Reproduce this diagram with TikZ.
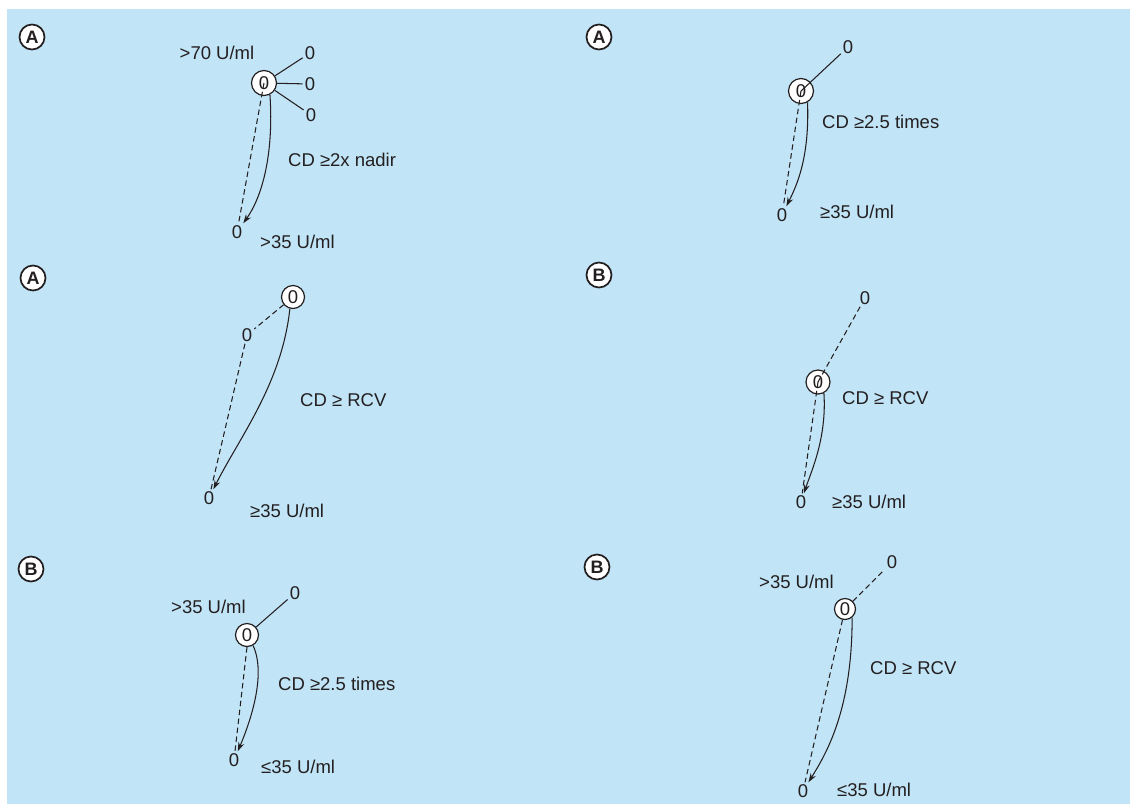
\documentclass[tikz,border=0pt]{standalone}
\usepackage{fontspec}
\setmainfont{Liberation Sans}
\usetikzlibrary{arrows.meta}
\definecolor{bgblue}{RGB}{193,228,246}
\definecolor{ink}{RGB}{35,31,32}
\begin{document}
\begin{tikzpicture}[x=1pt,y=-1pt,
  font=\fontsize{18.5}{22}\selectfont, text=ink,
  hub/.style={circle, draw=ink, fill=white, line width=1.2pt, minimum size=25pt, inner sep=0pt},
  zero/.style={inner sep=2pt},
  lbl/.style={anchor=west, inner sep=0pt},
  tag/.style={circle, draw=ink, fill=white, line width=1.7pt, minimum size=25pt, inner sep=0pt, font=\bfseries\fontsize{18}{20}\selectfont},
  edge/.style={draw=ink, line width=1.05pt},
  dsh/.style={edge, dash pattern=on 5.5pt off 3.5pt},
  arr/.style={edge, -{Stealth[length=9pt,width=6pt]}}]
\useasboundingbox (0,0) rectangle (1130,804);
\fill[white] (0,0) rectangle (1130,804);
\fill[bgblue] (7,9) rectangle (1130,804);

% Panel 1
\node[tag] (pa) at (32,37) {A};
\node[hub] (c1) at (264,83) {0};
\node[zero] (t1) at (310,53) {0};
\node[zero] (m1) at (310,84) {0};
\node[zero] (u1) at (311,115) {0};
\node[zero] (b1) at (237,232) {0};
\node (l1a) at (217,53) {>70 U/ml};
\node[lbl] (l1b) at (288,160) {CD ≥2x nadir};
\node[lbl] (l1c) at (260,242) {>35 U/ml};
\draw[edge] (c1) -- (t1);
\draw[edge] (c1) -- (m1);
\draw[edge] (c1) -- (u1);
\draw[dsh] (c1.center) -- (b1);
\draw[arr] (c1.-63) .. controls +(4,60) and +(25,-35) .. (b1);

% Panel 2
\node[tag] (pb) at (599,37) {A};
\node[hub] (c2) at (801,91) {0};
\node[zero] (t2) at (848,47) {0};
\node[zero] (b2) at (782,215) {0};
\node[lbl] (l2a) at (822,122) {CD ≥2.5 times};
\node[lbl] (l2b) at (820,212) {≥35 U/ml};
\draw[edge] (c2.center) -- (t2);
\draw[dsh] (c2.center) -- (b2);
\draw[arr] (c2.-60) .. controls +(2,55) and +(15,-30) .. (b2);

% Panel 3
\node[tag] (pc) at (33,278) {A};
\node[hub, minimum size=23pt] (c3) at (293,297) {0};
\node[zero] (m3) at (247,335) {0};
\node[zero] (b3) at (209,498) {0};
\node[lbl] (l3a) at (300,400) {CD ≥ RCV};
\node[lbl] (l3b) at (250,511) {≥35 U/ml};
\draw[dsh] (c3) -- (m3) -- (b3);
\draw[arr] (c3.-105) .. controls +(-8,75) and +(30,-60) .. (b3);

% Panel 4
\node[tag] (pd) at (599,275) {B};
\node[zero] (t4) at (865,298) {0};
\node[hub, minimum size=24pt] (c4) at (818,382) {0};
\node[zero] (b4) at (801,502) {0};
\node[lbl] (l4a) at (842,398) {CD ≥ RCV};
\node[lbl] (l4b) at (832,502) {≥35 U/ml};
\draw[dsh] (t4) -- (c4.center);
\draw[dsh] (c4.center) -- (b4);
\draw[arr] (c4.-62) .. controls +(3,45) and +(10,-30) .. (b4);

% Panel 5
\node[tag] (pe) at (31,569) {B};
\node[lbl] (l5a) at (171,607) {>35 U/ml};
\node[zero] (t5) at (295,593) {0};
\node[hub, minimum size=23pt] (c5) at (247,635) {0};
\node[zero] (b5) at (234,760) {0};
\node[lbl] (l5b) at (278,684) {CD ≥2.5 times};
\node[lbl] (l5c) at (261,767) {≤35 U/ml};
\draw[edge] (c5) -- (t5);
\draw[dsh] (c5.-90) -- (b5);
\draw[arr] (c5.-60) .. controls +(14,30) and +(15,-35) .. (b5);

% Panel 6
\node[tag] (pf) at (597,567) {B};
\node[lbl] (l6a) at (759,582) {>35 U/ml};
\node[zero] (t6) at (892,562) {0};
\node[hub, minimum size=21pt] (c6) at (845,609) {0};
\node[zero] (b6) at (803,791) {0};
\node[lbl] (l6b) at (870,668) {CD ≥ RCV};
\node[lbl] (l6c) at (837,790) {≤35 U/ml};
\draw[dsh] (c6) -- (t6);
\draw[dsh] (c6) -- (b6);
\draw[arr] (c6.-50) .. controls +(0,90) and +(25,-40) .. (b6);
\end{tikzpicture}
\end{document}
